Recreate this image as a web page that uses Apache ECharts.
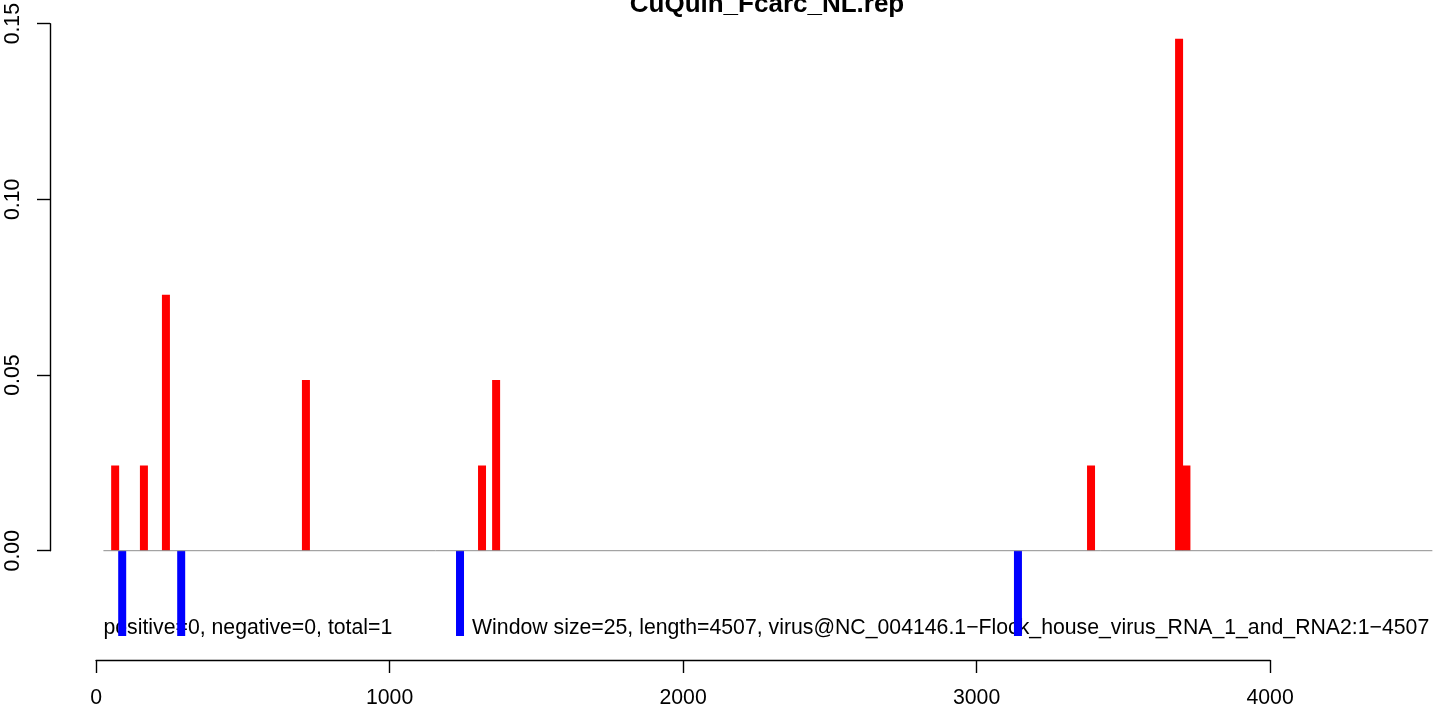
<!DOCTYPE html>
<html>
<head>
<meta charset="utf-8">
<script src="https://cdn.jsdelivr.net/npm/echarts@6/dist/echarts.min.js"></script>
<style>
  html, body { margin: 0; padding: 0; background: #fff; }
  #chart { width: 1444px; height: 711px; }
</style>
</head>
<body>
<div id="chart"></div>
<script>
// window positions and fractions
var posX = [65, 163, 238, 715, 1315, 1363, 3390, 3690, 3715];
var posY = [0.0241, 0.0241, 0.0723, 0.0482, 0.0241, 0.0482, 0.0241, 0.1446, 0.0241];
var negX = [89, 290, 1240, 3141];
var negY = [-0.0241, -0.0241, -0.0241, -0.0241];
var baseX = [25, 4553];
var titleText = 'CuQuin_Fcarc_NL.rep';
var annoText = ['positive=0, negative=0, total=1',
  'Window size=25, length=4507, virus@NC_004146.1\u2212Flock_house_virus_RNA_1_and_RNA2:1\u22124507'];
var annoX = [25, 1281];
var annoY = [-0.0218, -0.0218];

var FONT = 'Liberation Sans';
var FS = 21.25;
var chart = echarts.init(document.getElementById('chart'));

function pairs(xs, ys) {
  return xs.map(function (x, i) { return [x, ys[i]]; });
}

var axisCommon = {
  splitLine: { show: false },
  axisLine: { show: true, lineStyle: { color: '#000', width: 1.4 } },
  axisTick: { show: true, length: 13, lineStyle: { color: '#000', width: 1.4 } }
};

chart.setOption({
  animation: false,
  grid: [
    // plot region
    { left: 50, top: 15, width: 1390, height: 645 },
    // x axis frame: 0..4000 along the bottom of the plot region
    { left: 96.1, top: 15, width: 1174, height: 645 },
    // y axis frame: 0..0.15 along the left of the plot region
    { left: 50, top: 19.7, width: 1390, height: 531 }
  ],
  xAxis: [
    { gridIndex: 0, type: 'value', min: -157, max: 4579, show: false },
    Object.assign({
      gridIndex: 1, type: 'value', min: 0, max: 4000, interval: 1000, position: 'bottom',
      axisLabel: { margin: 28, color: '#000', fontFamily: FONT, fontSize: FS,
        formatter: function (v) { return String(v); } }
    }, axisCommon),
    { gridIndex: 2, type: 'value', show: false }
  ],
  yAxis: [
    { gridIndex: 0, type: 'value', min: -0.03088, max: 0.15133, show: false },
    { gridIndex: 1, type: 'value', show: false },
    Object.assign({
      gridIndex: 2, type: 'value', min: 0, max: 0.15, interval: 0.05, position: 'left',
      axisLabel: {
        rotate: 90, margin: 26, color: '#000', fontFamily: FONT, fontSize: FS,
        formatter: function (v) { return v.toFixed(2); }
      }
    }, axisCommon)
  ],
  series: [
    {
      type: 'line', xAxisIndex: 0, yAxisIndex: 0,
      data: baseX.map(function (x) { return [x, 0]; }),
      symbol: 'none', silent: true,
      lineStyle: { color: '#8e8e8e', width: 1 }
    },
    {
      type: 'bar', xAxisIndex: 0, yAxisIndex: 0,
      data: pairs(posX, posY),
      barWidth: 8, barGap: '-100%',
      itemStyle: { color: '#ff0000' }
    },
    {
      type: 'bar', xAxisIndex: 0, yAxisIndex: 0,
      data: pairs(negX, negY),
      barWidth: 8, barGap: '-100%',
      itemStyle: { color: '#0000ff' }
    }
  ]
});

// title and annotation text
var g = [{
  type: 'text', x: 767, y: 5, silent: true,
  style: { text: titleText, fill: '#000', font: 'bold 26px ' + FONT, align: 'center', verticalAlign: 'middle' }
}];
annoText.forEach(function (t, i) {
  var p = chart.convertToPixel({ gridIndex: 0 }, [annoX[i], annoY[i]]);
  g.push({
    type: 'text', x: p[0], y: p[1], silent: true,
    style: { text: t, fill: '#000', font: FS + 'px ' + FONT, align: 'left', verticalAlign: 'middle' }
  });
});
chart.setOption({ graphic: g });
</script>
</body>
</html>
